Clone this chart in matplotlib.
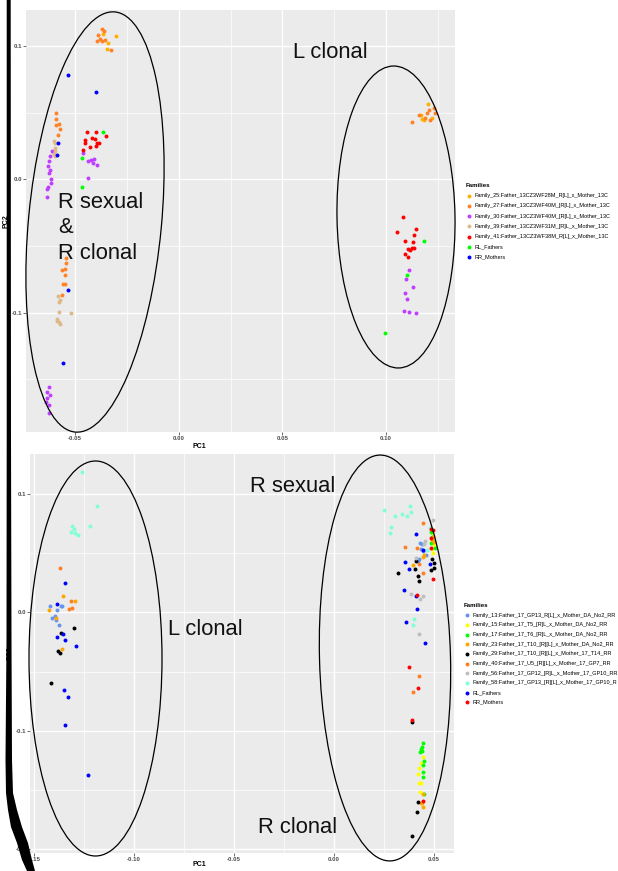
import matplotlib
matplotlib.use("Agg")
import matplotlib.pyplot as plt
from matplotlib.patches import Ellipse, Polygon
from matplotlib.ticker import MultipleLocator, FormatStrFormatter

plt.rcParams["font.family"] = ["Liberation Sans", "DejaVu Sans"]

# ---------------- top panel: 13CZ families ----------------
top_f25_x = [-0.0366, -0.0302, -0.0343, -0.0345, 0.1204, 0.1220, 0.1175, 0.1181, 0.1168]
top_f25_y = [0.1090, 0.1077, 0.1025, 0.0975, 0.0565, 0.0462, 0.0450, 0.0443, 0.0480]

top_f27_x = [-0.0372, -0.0362, -0.0388, -0.0380, -0.0393, -0.0370, -0.0357, -0.0326,
             -0.0591, -0.0594, -0.0592, -0.0579, -0.0575, -0.0584,
             -0.0546, -0.0544, -0.0563, -0.0550, -0.0548, -0.0560, -0.0550, -0.0562,
             0.1160, 0.1196, 0.1206, 0.1230, 0.1236, 0.1213, 0.1126, 0.1188]
top_f27_y = [0.1125, 0.1115, 0.1082, 0.1050, 0.1040, 0.1040, 0.1045, 0.0972,
             0.0500, 0.0455, 0.0407, 0.0415, 0.0375, 0.0332,
             -0.0593, -0.0630, -0.0680, -0.0675, -0.0718, -0.0788, -0.0788, -0.0868,
             0.0480, 0.0500, 0.0520, 0.0535, 0.0500, 0.0445, 0.0430, 0.0458]

top_f30_x = [-0.0610, -0.0621, -0.0625, -0.0630, -0.0623, -0.0628, -0.0618, -0.0618, -0.0632, -0.0636, -0.0636,
             -0.0461, -0.0437, -0.0424, -0.0411, -0.0412, -0.0395, -0.0439,
             -0.0625, -0.0634, -0.0621, -0.0637, -0.0641, -0.0625, -0.0628,
             0.1110, 0.1095, 0.1128, 0.1090, 0.1099, 0.1088, 0.1112, 0.1143]
top_f30_y = [0.0215, 0.0175, 0.0135, 0.0100, 0.0068, 0.0045, 0.0005, -0.0026, -0.0060, -0.0073, -0.0135,
             0.0200, 0.0140, 0.0147, 0.0152, 0.0120, 0.0105, 0.0012,
             -0.1556, -0.1596, -0.1616, -0.1643, -0.1668, -0.1695, -0.1751,
             -0.0680, -0.0746, -0.0808, -0.0853, -0.0898, -0.0986, -0.0993, -0.1005]

top_f39_x = [-0.0601, -0.0596, -0.0599, -0.0596, -0.0602, -0.0597,
             -0.0584, -0.0572, -0.0579, -0.0578, -0.0520, -0.0589, -0.0586, -0.0579, -0.0572]
top_f39_y = [0.0290, 0.0270, 0.0233, 0.0215, 0.0190, 0.0175,
             -0.0875, -0.0905, -0.0920, -0.0993, -0.1005, -0.1046, -0.1061, -0.1070, -0.1085]

top_f41_x = [-0.0444, -0.0398, -0.0353, -0.0454, -0.0451, -0.0417, -0.0404, -0.0393, -0.0385, -0.0398, -0.0427, -0.0462,
             0.1080, 0.1051, 0.1143, 0.1133, 0.1093, 0.1128, 0.1107, 0.1117, 0.1124, 0.1133, 0.1091, 0.1106]
top_f41_y = [0.0357, 0.0355, 0.0327, 0.0295, 0.0270, 0.0310, 0.0300, 0.0275, 0.0272, 0.0250, 0.0242, 0.0220,
             -0.0283, -0.0393, -0.0375, -0.0420, -0.0463, -0.0468, -0.0523, -0.0530, -0.0518, -0.0515, -0.0563, -0.0583]

top_fathers_x = [-0.0364, -0.0468, -0.0467, 0.1184, 0.1102, 0.0996]
top_fathers_y = [0.0353, 0.0160, -0.0056, -0.0463, -0.0716, -0.1155]

top_mothers_x = [-0.0583, -0.0586, -0.0533, -0.0399, -0.0533, -0.0559]
top_mothers_y = [0.0270, 0.0180, 0.0782, 0.0657, -0.0830, -0.1380]

top_labels = [
    "Family_25:Father_13CZ3WF28M_R[L]_x_Mother_13C",
    "Family_27:Father_13CZ3WF40M_[R[L]_x_Mother_13C",
    "Family_30:Father_13CZ3WF40M_[R[L]_x_Mother_13C",
    "Family_39:Father_13CZ3WF31M_[R]L_x_Mother_13C",
    "Family_41:Father_13CZ3WF38M_R[L]_x_Mother_13C",
    "RL_Fathers",
    "RR_Mothers",
]
top_colors = ["#FFB000", "#FF8227", "#BF3EFF", "#DEB887", "#FF0000", "#00FF00", "#0000FF"]

# ---------------- bottom panel: 17 families ----------------
bot_f13_x = [-0.1416, -0.1381, -0.1361, -0.1356, -0.1409, -0.1389, -0.1373, -0.1392,
             0.0429, 0.0439, 0.0446, 0.0433, 0.0424, 0.0459, 0.0418]
bot_f13_y = [0.0056, 0.0019, 0.0053, 0.0056, -0.0046, -0.0065, -0.0110, -0.0031,
             0.0582, 0.0573, 0.0519, 0.0534, 0.0449, 0.0483, 0.0435]

bot_f15_x = [0.0491, 0.0496, 0.0488, 0.0499, 0.0487, 0.0496,
             0.0444, 0.0433, 0.0426, 0.0421, 0.0423, 0.0435, 0.0429]
bot_f15_y = [0.0669, 0.0635, 0.0601, 0.0567, 0.0534, 0.0503,
             -0.1218, -0.1268, -0.1310, -0.1366, -0.1437, -0.1437, -0.1513]

bot_f17_x = [0.0483, 0.0488, 0.0496, 0.0484, 0.0504,
             0.0446, 0.0439, 0.0436, 0.0429, 0.0438, 0.0451, 0.0443, 0.0446, 0.0444, 0.0449]
bot_f17_y = [0.0680, 0.0637, 0.0604, 0.0582, 0.0540,
             -0.1099, -0.1133, -0.1155, -0.1175, -0.1170, -0.1254, -0.1288, -0.1344, -0.1391, -0.1532]

bot_f23_x = [-0.1353, -0.1292, -0.1421, -0.1388, -0.1356,
             0.0396, 0.0451, 0.0446, 0.0496, 0.0488, 0.0499, 0.0443, 0.0441, 0.0446, 0.0435]
bot_f23_y = [0.0140, 0.0093, 0.0017, -0.0046, -0.0309,
             0.0399, 0.0483, 0.0469, 0.0637, 0.0610, 0.0595, -0.1532, -0.1610, -0.1639, -0.1608]

bot_f29_x = [-0.1298, -0.1364, -0.1379, -0.1366, -0.1411,
             0.0409, 0.0406, 0.0421, 0.0423, 0.0320, 0.0491, 0.0498, 0.0499, 0.0483,
             0.0414, 0.0418, 0.0389, 0.0389]
bot_f29_y = [-0.0130, -0.0177, -0.0326, -0.0346, -0.0594,
             0.0430, 0.0368, 0.0304, 0.0264, 0.0329, 0.0447, 0.0413, 0.0371, 0.0354,
             -0.1686, -0.1602, -0.1886, -0.0927]

bot_f40_x = [-0.1368, -0.1315, -0.1321, -0.1307,
             0.0446, 0.0354, 0.0413, 0.0426, 0.0446, 0.0426, 0.0396]
bot_f40_y = [0.0376, 0.0093, 0.0028, 0.0034,
             0.0750, 0.0548, 0.0545, 0.0407, 0.0329, -0.0540, -0.0672]

bot_f56_x = [0.0494, 0.0456, 0.0451, 0.0409, 0.0386, 0.0429, 0.0444, 0.0426]
bot_f56_y = [0.0776, 0.0604, 0.0576, 0.0455, 0.0157, 0.0112, 0.0140, -0.0180]

bot_f58_x = [-0.1260, -0.1183, -0.1220, -0.1308, -0.1298, -0.1315, -0.1295, -0.1280,
             0.0251, 0.0303, 0.0285, 0.0281, 0.0341, 0.0364, 0.0383, 0.0379, 0.0399, 0.0394, 0.0479, 0.0466]
bot_f58_y = [0.1183, 0.0899, 0.0730, 0.0725, 0.0700, 0.0675, 0.0669, 0.0649,
             0.0860, 0.0809, 0.0717, 0.0671, 0.0829, 0.0815, 0.0843, 0.0894, -0.0059, -0.0105, 0.0713, 0.0523]

bot_fathers_x = [-0.1343, -0.1381, -0.1351, -0.1383, -0.1341, -0.1287, -0.1349, -0.1329, -0.1341, -0.1228,
                 0.0411, 0.0354, 0.0376, 0.0351, 0.0408, 0.0413, 0.0361, 0.0456, 0.0479, 0.0446]
bot_fathers_y = [0.0245, 0.0070, -0.0185, -0.0211, -0.0236, -0.0284, -0.0658, -0.0712, -0.0953, -0.1369,
                 0.0660, 0.0424, 0.0365, 0.0185, 0.0135, 0.0028, -0.0084, -0.0259, 0.0410, 0.0528]

bot_mothers_x = [0.0483, 0.0493, 0.0484, 0.0483, 0.0493, 0.0416, 0.0376, 0.0418, 0.0388, 0.0446]
bot_mothers_y = [0.0705, 0.0694, 0.0624, 0.0540, 0.0283, 0.0143, -0.0461, -0.0641, -0.0908, -0.1591]

bot_labels = [
    "Family_13:Father_17_GP13_R[L]_x_Mother_DA_No2_RR",
    "Family_15:Father_17_T5_[R]L_x_Mother_DA_No2_RR",
    "Family_17:Father_17_T6_[R]L_x_Mother_DA_No2_RR",
    "Family_23:Father_17_T10_[R][L]_x_Mother_DA_No2_RR",
    "Family_29:Father_17_T10_[R][L]_x_Mother_17_T14_RR",
    "Family_40:Father_17_U5_[R][L]_x_Mother_17_GP7_RR",
    "Family_56:Father_17_GP12_[R]L_x_Mother_17_GP10_RR",
    "Family_58:Father_17_GP13_[R][L]_x_Mother_17_GP10_R",
    "RL_Fathers",
    "RR_Mothers",
]
bot_colors = ["#6495ED", "#FFFF00", "#00FF00", "#FFA500", "#000000",
              "#FF7F24", "#BEBEBE", "#7FFFD4", "#0000FF", "#FF0000"]

top_xs = [top_f25_x, top_f27_x, top_f30_x, top_f39_x, top_f41_x, top_fathers_x, top_mothers_x]
top_ys = [top_f25_y, top_f27_y, top_f30_y, top_f39_y, top_f41_y, top_fathers_y, top_mothers_y]
bot_xs = [bot_f13_x, bot_f15_x, bot_f17_x, bot_f23_x, bot_f29_x, bot_f40_x, bot_f56_x, bot_f58_x,
          bot_fathers_x, bot_mothers_x]
bot_ys = [bot_f13_y, bot_f15_y, bot_f17_y, bot_f23_y, bot_f29_y, bot_f40_y, bot_f56_y, bot_f58_y,
          bot_fathers_y, bot_mothers_y]

W, H = 618, 871


def draw_panel(ax, xs, ys, colors, labels, xlim, ylim, legend_xy, spacing):
    """ggplot-like scatter panel with a 'Families' legend to its right."""
    ax.set_facecolor("#EBEBEB")
    for x, y, c, lab in zip(xs, ys, colors, labels):
        ax.scatter(x, y, s=8, color=c, linewidths=0, label=lab, zorder=3)
    ax.set_xlim(*xlim)
    ax.set_ylim(*ylim)
    ax.xaxis.set_major_locator(MultipleLocator(0.05))
    ax.xaxis.set_minor_locator(MultipleLocator(0.025))
    ax.yaxis.set_major_locator(MultipleLocator(0.1))
    ax.yaxis.set_minor_locator(MultipleLocator(0.05))
    ax.xaxis.set_major_formatter(FormatStrFormatter("%.2f"))
    ax.yaxis.set_major_formatter(FormatStrFormatter("%.1f"))
    ax.grid(which="major", color="white", lw=1.0)
    ax.grid(which="minor", color="white", lw=0.5)
    ax.set_axisbelow(True)
    for sp in ax.spines.values():
        sp.set_visible(False)
    ax.tick_params(which="major", length=2, width=0.5, color="#333333",
                   labelsize=4.4, labelcolor="#4D4D4D", pad=1)
    ax.tick_params(which="minor", length=0)
    for t in ax.get_xticklabels() + ax.get_yticklabels():
        t.set_fontweight("bold")
    ax.set_xlabel("PC1", fontsize=5, fontweight="bold")
    ax.set_ylabel("PC2", fontsize=5, fontweight="bold", labelpad=1.5)
    ax.legend(loc="upper left", bbox_to_anchor=(legend_xy[0] / W, 1 - legend_xy[1] / H),
              bbox_transform=ax.figure.transFigure, frameon=False, fontsize=4.0,
              title="Families", title_fontproperties={"weight": "bold", "size": 4.4},
              alignment="left", handlelength=1.0, handletextpad=0.5,
              labelspacing=spacing, borderpad=0, borderaxespad=0, scatterpoints=1)


fig = plt.figure(figsize=(W / 100, H / 100), dpi=100)

ax_top = fig.add_axes([26 / W, 1 - 432 / H, (455 - 26) / W, (432 - 10) / H])
draw_panel(ax_top, top_xs, top_ys, top_colors, top_labels,
           (-0.0737, 0.1332), (-0.1896, 0.1270), (466, 183), 0.94)
ax_top.xaxis.set_label_coords(0.403, -0.026)

ax_bot = fig.add_axes([30 / W, 1 - 853 / H, (454 - 30) / W, (853 - 454) / H])
draw_panel(ax_bot, bot_xs, bot_ys, bot_colors, bot_labels,
           (-0.1518, 0.0599), (-0.2031, 0.1335), (464, 603), 0.84)
ax_bot.xaxis.set_label_coords(0.399, -0.019)

# hand-drawn annotations layered over both panels (pixel coordinates)
ov = fig.add_axes([0, 0, 1, 1], zorder=10)
ov.set_xlim(0, W)
ov.set_ylim(H, 0)
ov.axis("off")
ov.patch.set_alpha(0)

ellipses = [((95, 222), 133, 422, 5.4), ((396, 217), 118, 302, -1.0),
            ((95.5, 658.5), 133, 395, 0.0), ((385, 658), 131, 406, -1.5)]
for (cx, cy), w, h, ang in ellipses:
    ov.add_patch(Ellipse((cx, cy), w, h, angle=ang, fill=False, ec="black", lw=0.9))

notes = [(58, 208, "R sexual"), (58, 233, "&"), (58, 259, "R clonal"), (293, 58, "L clonal"),
         (250, 492, "R sexual"), (168, 635, "L clonal"), (258, 833, "R clonal")]
for x, y, s in notes:
    ov.text(x, y, s, fontsize=15.8, va="baseline", ha="left", color="#111111")

bracket = [(6.7, 0), (6.7, 440), (6.5, 640), (5.5, 760), (6, 793), (8, 810), (11, 827), (17, 843),
           (22, 860), (27, 871), (35, 871), (32, 860), (28, 843), (22, 827), (17, 810),
           (13, 793), (12, 760), (11.5, 640), (11, 440), (10.7, 0)]
ov.add_patch(Polygon(bracket, closed=True, fc="black", ec="none"))

fig.savefig("out.png", dpi=100)
